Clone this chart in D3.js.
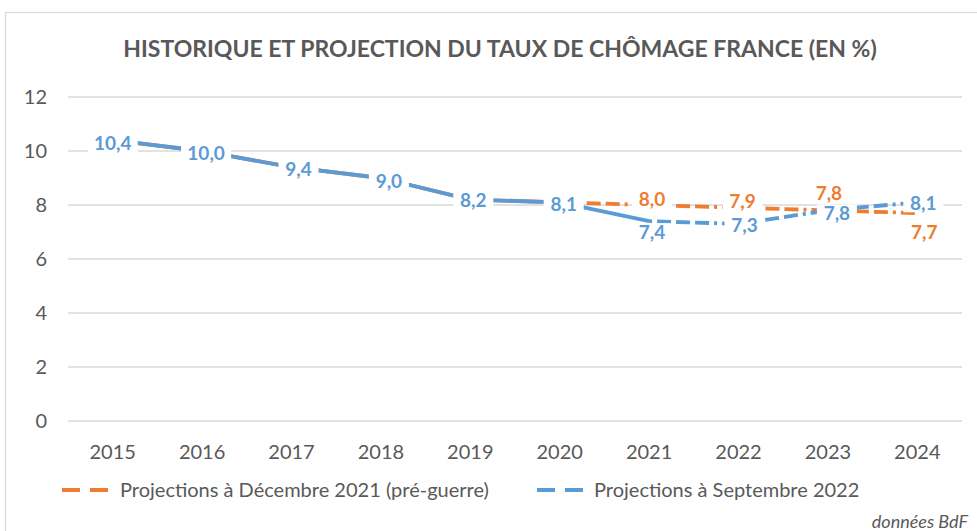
<!DOCTYPE html>
<html>
<head>
<meta charset="utf-8">
<script src="https://cdn.jsdelivr.net/npm/d3@7"></script>
<style>
  body { margin: 0; background: #fff; }
  svg { display: block; font-family: Lato, "Open Sans", sans-serif; }
</style>
</head>
<body>
<div id="chart"></div>
<script>
// Data
const years = ['2015', '2016', '2017', '2018', '2019', '2020', '2021', '2022', '2023', '2024'];
const projDec2021 = [10.4, 10.0, 9.4, 9.0, 8.2, 8.1, 8.0, 7.9, 7.8, 7.7];
const projSep2022 = [10.4, 10.0, 9.4, 9.0, 8.2, 8.1, 7.4, 7.3, 7.8, 8.1];
const yTicks = [0, 2, 4, 6, 8, 10, 12];
const legendNames = ['Projections à Décembre 2021 (pré-guerre)', 'Projections à Septembre 2022'];
// first year drawn dashed (projection) for each series
const dashFrom = ['2020', '2021'];
// label nudges (px) so they sit like Excel placed them
const orangeLabelDy = [0, 0, 0, 0, 0, 0, -6, -6, -17, 19];
const blueLabelDy = [3, 2, 2, 3, 1, 2, 11, 1, 3, 1];
const blueLabelDx = [0, 4, 7, 8, 3, 4, 3, 6, 9, 6];
const orangeLabelDx = [0, 0, 0, 0, 0, 0, 3, 4, 1, 7];

const width = 977, height = 531;
const margin = { top: 97, right: 15, bottom: 110, left: 68 };
const blue = '#5B9BD5', orange = '#ED7D31', grey = '#595959';

const svg = d3.select('#chart').append('svg')
    .attr('width', width)
    .attr('height', height);

// chart frame
svg.append('rect')
    .attr('x', 5.5).attr('y', 12.5)
    .attr('width', 990).attr('height', 560)
    .attr('fill', 'none')
    .attr('stroke', '#d9d9d9')
    .attr('stroke-width', 1.3);

svg.append('text')
    .attr('x', 500).attr('y', 57)
    .attr('text-anchor', 'middle')
    .attr('font-size', 23)
    .attr('font-weight', 'bold')
    .attr('fill', grey)
    .text('HISTORIQUE ET PROJECTION DU TAUX DE CHÔMAGE FRANCE (EN %)');

const x = d3.scaleBand()
    .domain(years)
    .range([margin.left, width - margin.right]);

const y = d3.scaleLinear()
    .domain([0, 12])
    .range([height - margin.bottom, margin.top]);

// gridlines
svg.append('g')
    .selectAll('line')
    .data(yTicks)
    .join('line')
    .attr('x1', margin.left).attr('x2', width - margin.right)
    .attr('y1', d => y(d)).attr('y2', d => y(d))
    .attr('stroke', '#d9d9d9')
    .attr('stroke-width', 1.3);

// y axis labels
svg.append('g')
    .selectAll('text')
    .data(yTicks)
    .join('text')
    .attr('x', 47)
    .attr('y', d => y(d))
    .attr('dy', '0.35em')
    .attr('text-anchor', 'end')
    .attr('font-size', 20)
    .attr('fill', grey)
    .text(d => d);

// x axis labels
svg.append('g')
    .selectAll('text')
    .data(years)
    .join('text')
    .attr('x', d => x(d) + x.bandwidth() / 2)
    .attr('y', 452)
    .attr('dy', '0.35em')
    .attr('text-anchor', 'middle')
    .attr('font-size', 20)
    .attr('fill', grey)
    .text(d => d);

const cx = d => x(d) + x.bandwidth() / 2;

function drawSeries(values, color, dashStart) {
    const pts = years.map((yr, i) => ({ yr, v: values[i], i }));
    const startIdx = years.indexOf(dashStart);
    const g = svg.append('g');
    for (let i = 0; i < pts.length - 1; i++) {
        const a = pts[i], b = pts[i + 1];
        g.append('line')
            .attr('x1', cx(a.yr)).attr('y1', y(a.v))
            .attr('x2', cx(b.yr)).attr('y2', y(b.v))
            .attr('stroke', color)
            .attr('stroke-width', 3.8)
            .attr('stroke-dasharray', i >= startIdx ? '3,5,14,5,14,5,14,5' : null);
    }
}

drawSeries(projDec2021, orange, dashFrom[0]);
drawSeries(projSep2022, blue, dashFrom[1]);

// data labels with white boxes (drawn over lines, like Excel)
const labels = [];
years.forEach((yr, i) => {
    labels.push({ yr, v: projSep2022[i], color: blue, dx: blueLabelDx[i], dy: blueLabelDy[i] });
    if (i >= 6) {
        labels.push({ yr, v: projDec2021[i], color: orange, dx: orangeLabelDx[i], dy: orangeLabelDy[i] });
    }
});

const fmt = v => v.toFixed(1).replace('.', ',');

const lab = svg.append('g')
    .selectAll('g')
    .data(labels)
    .join('g')
    .attr('transform', d => `translate(${cx(d.yr) + d.dx},${y(d.v) + d.dy})`);

lab.append('rect')
    .attr('x', d => d.v >= 10 ? -25 : -20)
    .attr('y', -9)
    .attr('width', d => d.v >= 10 ? 50 : 40)
    .attr('height', 18)
    .attr('fill', '#fff');

lab.append('text')
    .attr('text-anchor', 'middle')
    .attr('dy', '0.35em')
    .attr('font-size', 19)
    .attr('font-weight', 'bold')
    .attr('fill', d => d.color)
    .text(d => fmt(d.v));

// legend
const legend = svg.append('g');
[[62, 120, orange], [537, 594, blue]].forEach((l, i) => {
    legend.append('line')
        .attr('x1', l[0]).attr('x2', l[1] - 3)
        .attr('y1', 490).attr('y2', 490)
        .attr('stroke', l[2])
        .attr('stroke-width', 3.8)
        .attr('stroke-dasharray', '18,10');
    legend.append('text')
        .attr('x', l[1]).attr('y', 490)
        .attr('dy', '0.35em')
        .attr('font-size', 20)
        .attr('fill', grey)
        .text(legendNames[i]);
});

svg.append('text')
    .attr('x', 968).attr('y', 522)
    .attr('dy', '0.35em')
    .attr('text-anchor', 'end')
    .attr('font-size', 18)
    .attr('font-style', 'italic')
    .attr('fill', grey)
    .text('données BdF');
</script>
</body>
</html>
